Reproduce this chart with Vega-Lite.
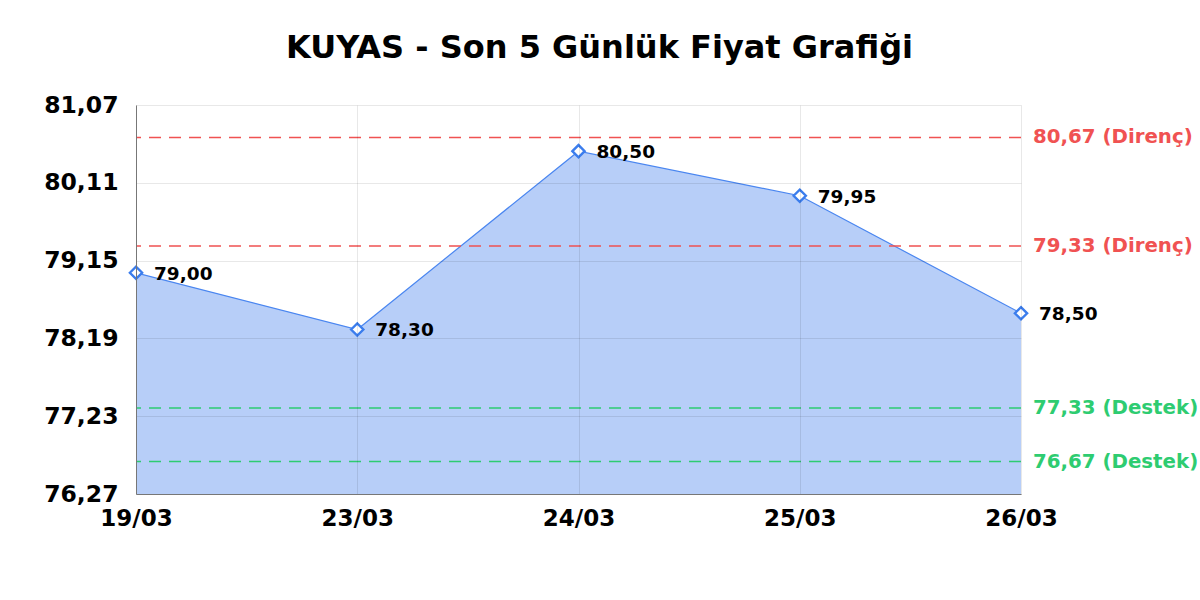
{
  "$schema": "https://vega.github.io/schema/vega-lite/v6.json",
  "background": "white",
  "autosize": {"type": "none"},
  "padding": {"left": 136, "top": 105, "right": 179, "bottom": 106},
  "width": 885,
  "height": 389,
  "title": {
    "text": "KUYAS - Son 5 Günlük Fiyat Grafiği",
    "font": "DejaVu Sans",
    "fontSize": 32,
    "fontWeight": "bold",
    "color": "black",
    "anchor": "middle",
    "frame": "group",
    "dx": 21,
    "offset": 28
  },
  "config": {
    "font": "DejaVu Sans",
    "view": {"stroke": null},
    "locale": {
      "number": {"decimal": ",", "thousands": ".", "grouping": [3], "currency": ["", " TL"]}
    }
  },
  "datasets": {
    "prices": [
      {"date": "19/03", "price": 79.00},
      {"date": "23/03", "price": 78.30},
      {"date": "24/03", "price": 80.50},
      {"date": "25/03", "price": 79.95},
      {"date": "26/03", "price": 78.50}
    ],
    "levels": [
      {"level": 80.67, "label": "80,67 (Direnç)", "color": "#f05252", "at": "26/03"},
      {"level": 79.33, "label": "79,33 (Direnç)", "color": "#f05252", "at": "26/03"},
      {"level": 77.33, "label": "77,33 (Destek)", "color": "#2ecc71", "at": "26/03"},
      {"level": 76.67, "label": "76,67 (Destek)", "color": "#2ecc71", "at": "26/03"}
    ]
  },
  "encoding": {
    "x": {
      "field": "date",
      "type": "ordinal",
      "sort": null,
      "scale": {"type": "point", "padding": 0},
      "axis": {
        "title": null,
        "labelAngle": 0,
        "labelFontSize": 23,
        "labelFontWeight": "bold",
        "labelColor": "black",
        "labelPadding": 13,
        "ticks": false,
        "grid": true,
        "gridColor": "black",
        "gridOpacity": 0.09,
        "domainColor": "#777",
        "zindex": 1
      }
    },
    "y": {
      "field": "price",
      "type": "quantitative",
      "scale": {"domain": [76.27, 81.07], "nice": false, "zero": false},
      "axis": {
        "title": null,
        "values": [76.27, 77.23, 78.19, 79.15, 80.11, 81.07],
        "format": ".2f",
        "labelFontSize": 23.5,
        "labelFontWeight": "bold",
        "labelColor": "black",
        "labelPadding": 18,
        "ticks": false,
        "grid": true,
        "gridColor": "black",
        "gridOpacity": 0.09,
        "domainColor": "#777",
        "zindex": 1
      }
    }
  },
  "layer": [
    {
      "data": {"name": "prices"},
      "mark": {"type": "area", "color": "#b7cef8", "opacity": 1, "clip": true, "line": {"color": "#4a86f0", "strokeWidth": 1.2}},
      "encoding": {
        "y2": {"datum": 76.27}
      }
    },
    {
      "data": {"name": "levels"},
      "mark": {"type": "rule", "strokeDash": [12, 8], "strokeWidth": 1.5},
      "encoding": {
        "x": null,
        "y": {"field": "level", "type": "quantitative"},
        "color": {"field": "color", "type": "nominal", "scale": null}
      }
    },
    {
      "data": {"name": "levels"},
      "mark": {"type": "text", "align": "left", "baseline": "middle", "dx": 12, "fontSize": 19.8, "fontWeight": "bold"},
      "encoding": {
        "x": {"field": "at", "type": "ordinal"},
        "y": {"field": "level", "type": "quantitative"},
        "text": {"field": "label"},
        "color": {"field": "color", "type": "nominal", "scale": null}
      }
    },
    {
      "data": {"name": "prices"},
      "mark": {"type": "point", "shape": "diamond", "filled": true, "fill": "white", "stroke": "#3b7ded", "strokeWidth": 2.4, "size": 150, "opacity": 1},
      "encoding": {}
    },
    {
      "data": {"name": "prices"},
      "mark": {"type": "text", "align": "left", "baseline": "middle", "dx": 18, "dy": 1, "fontSize": 18.5, "fontWeight": "bold", "color": "black"},
      "encoding": {
        "text": {"field": "price", "type": "quantitative", "format": ".2f"}
      }
    }
  ]
}
